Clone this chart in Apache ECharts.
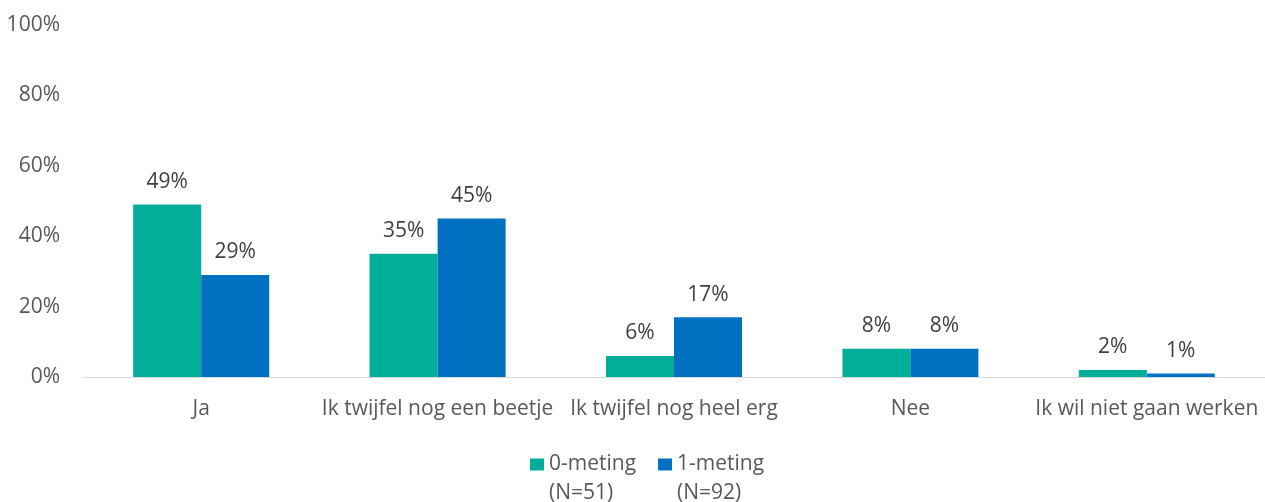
<!DOCTYPE html>
<html><head><meta charset="utf-8">
<script src="https://cdn.jsdelivr.net/npm/echarts@6/dist/echarts.min.js"></script>
<style>html,body{margin:0;padding:0;background:#fff}#c{width:1265px;height:502px}</style>
</head><body><div id="c"></div>
<script>
const categories = ["Ja", "Ik twijfel nog een beetje", "Ik twijfel nog heel erg", "Nee", "Ik wil niet gaan werken"];
const seriesNames = ["0-meting\n(N=51)", "1-meting\n(N=92)"];
const meting0 = [49, 35, 6, 8, 2];
const meting1 = [29, 45, 17, 8, 1];
const yTicks = [0, 20, 40, 60, 80, 100];
const colors = ["#00AE9A", "#0070C0"];
const FONT = "Open Sans";
const FS = 21;
const chart = echarts.init(document.getElementById('c'));
chart.setOption({
  animation: false,
  textStyle: {fontFamily: FONT},
  grid: {left: 83, width: 1186, top: 25, height: 352},
  legend: {
    left: 530, top: 421, padding: 0, itemWidth: 14, itemHeight: 12, itemGap: 22, icon: 'rect',
    formatter: n => '\n' + n,
    textStyle: {fontFamily: FONT, fontSize: FS, color: '#595959', lineHeight: 29}
  },
  xAxis: {
    type: 'category', data: categories,
    axisLine: {lineStyle: {color: '#D9D9D9', width: 1}},
    axisTick: {show: false},
    axisLabel: {color: '#595959', fontSize: FS, margin: 22, interval: 0, fontFamily: FONT}
  },
  yAxis: {
    type: 'value', min: yTicks[0], max: yTicks[yTicks.length - 1], interval: 20,
    splitLine: {show: false}, axisLine: {show: false}, axisTick: {show: false},
    axisLabel: {color: '#595959', fontSize: FS, margin: 23, formatter: v => v + '%', fontFamily: FONT}
  },
  series: [meting0, meting1].map((d, i) => ({
    name: seriesNames[i], type: 'bar', data: d, barWidth: 68, barGap: '0%',
    itemStyle: {color: colors[i]},
    label: {show: true, position: 'top', distance: 12, formatter: p => p.value + '%', color: '#404040', fontSize: FS, fontFamily: FONT}
  }))
});
</script></body></html>
